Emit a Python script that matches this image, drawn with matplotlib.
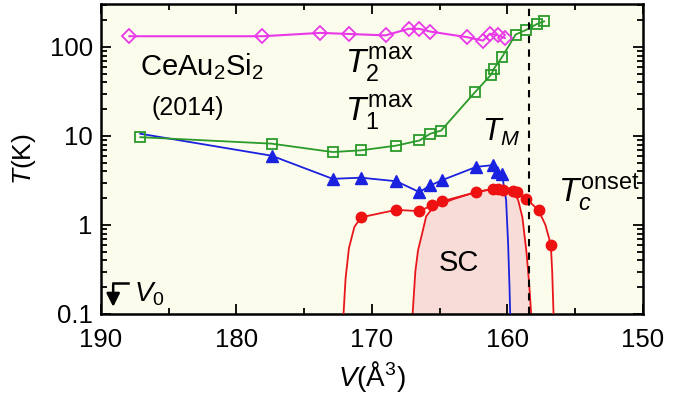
import matplotlib
matplotlib.use("Agg")
import matplotlib.pyplot as plt
from matplotlib.ticker import FixedLocator, FixedFormatter, LogLocator, NullFormatter, MultipleLocator

plt.rcParams['font.family'] = ['Liberation Sans', 'DejaVu Sans']
plt.rcParams['mathtext.fontset'] = 'custom'
plt.rcParams['mathtext.rm'] = 'Liberation Sans'
plt.rcParams['mathtext.it'] = 'Liberation Sans:italic'

# T2max (magenta diamonds)
t2_v = [187.9, 178.1, 173.8, 171.7, 169.0, 167.3, 166.5, 165.7, 163.0, 161.8, 161.3, 160.7, 160.2]
t2_t = [132, 132, 144, 140, 135, 160, 160, 149, 129, 118, 141, 135, 126]

# T1max (green squares)
t1_v = [187.1, 177.4, 172.9, 170.8, 168.2, 166.5, 165.7, 164.9, 162.4, 161.2, 161.0, 160.4, 159.4, 158.6, 157.8, 157.3]
t1_t = [9.7, 8.2, 6.6, 6.9, 7.8, 8.9, 10.6, 11.5, 31, 49, 57, 77, 138, 156, 182, 194]

# TM (blue triangles) and its drop to zero
tm_v = [177.4, 172.9, 170.8, 168.2, 166.5, 165.7, 164.8, 162.3, 161.1, 160.8, 160.4]
tm_t = [6.0, 3.3, 3.4, 3.1, 2.34, 2.78, 3.2, 4.5, 4.7, 3.9, 3.7]
tm_line_v = [187.1, 177.4, 172.9, 170.8, 168.2, 166.5, 165.7, 164.8, 162.3, 161.1, 160.8, 160.4, 160.1, 159.95, 159.85, 159.8]
tm_line_t = [10.6, 6.0, 3.3, 3.4, 3.1, 2.34, 2.78, 3.2, 4.5, 4.7, 3.9, 3.7, 1.9, 0.6, 0.2, 0.1]

# Tc onset (red circles) and its boundary line
tc_v = [170.8, 168.2, 166.5, 165.6, 164.8, 162.3, 161.1, 160.7, 160.3, 159.6, 159.3, 158.6, 157.7, 156.8]
tc_t = [1.22, 1.48, 1.43, 1.66, 1.85, 2.34, 2.55, 2.55, 2.5, 2.4, 2.34, 1.97, 1.46, 0.60]
tc_line_v = [172.1, 171.95, 171.7, 171.3, 170.8, 168.2, 166.5, 165.6, 164.8, 162.3, 161.1, 160.7, 160.3,
             159.6, 159.3, 158.6, 157.7, 157.2, 156.8, 156.7, 156.6]
tc_line_t = [0.1, 0.25, 0.55, 0.95, 1.22, 1.48, 1.43, 1.66, 1.85, 2.34, 2.55, 2.55, 2.5,
             2.4, 2.34, 1.97, 1.46, 1.0, 0.60, 0.3, 0.1]

# superconducting dome boundary
sc_v = [167.0, 166.8, 166.6, 166.3, 166.0, 165.6, 165.0, 164.0, 162.5, 161.0, 160.0, 159.5, 159.2, 158.9, 158.6, 158.4, 158.25]
sc_t = [0.1, 0.3, 0.52, 0.8, 1.25, 1.5, 1.7, 1.95, 2.3, 2.55, 2.6, 2.35, 1.88, 1.22, 0.5, 0.22, 0.1]

v_dash = 158.4

x_major = [190, 180, 170, 160, 150]
y_major = [0.1, 1, 10, 100]
y_labels = ['0.1', '1', '10', '100']

fig = plt.figure(figsize=(6.96, 4.09), dpi=100)
ax = fig.add_axes([0.1451, 0.2323, 0.7787, 0.7579])
ax.set_facecolor('#fcfcec')

ax.fill_between(sc_v, 0.1, sc_t, color='#f8dcd8', lw=0, zorder=1)
ax.plot(sc_v, sc_t, color='#e8161b', lw=1.3, zorder=2)
ax.plot(tc_line_v, tc_line_t, color='#e8161b', lw=1.3, zorder=3)
ax.plot(tc_v, tc_t, 'o', color='#ee1111', ms=7.5, zorder=4)

ax.plot(tm_line_v, tm_line_t, color='#1a22e0', lw=1.3, zorder=3)
ax.plot(tm_v, tm_t, '^', color='#1a22e0', ms=8, zorder=4)

ax.plot(t1_v, t1_t, 's-', color='#2a9a2a', mfc='none', mew=1.3, ms=6.5, lw=1.3, zorder=4)
ax.plot(t2_v, t2_t, 'D-', color='#e838e8', mfc='none', mew=1.3, ms=7, lw=1.5, zorder=4)

ax.axvline(v_dash, color='black', ls=(0, (3.5, 3)), lw=1.5, zorder=5)

ax.set_yscale('log')
ax.set_xlim(190, 150)
ax.set_ylim(0.1, 304)

ax.xaxis.set_major_locator(FixedLocator(x_major))
ax.xaxis.set_minor_locator(MultipleLocator(5))
ax.yaxis.set_major_locator(FixedLocator(y_major))
ax.yaxis.set_major_formatter(FixedFormatter(y_labels))
ax.yaxis.set_minor_locator(LogLocator(base=10, subs=[2, 3, 4, 5, 6, 7, 8, 9]))
ax.yaxis.set_minor_formatter(NullFormatter())

ax.tick_params(which='both', direction='in', top=True, right=True, labelsize=18.5, width=1.3)
ax.tick_params(axis='x', which='major', pad=10)
ax.tick_params(axis='y', which='major', pad=6)
ax.tick_params(which='major', length=7)
ax.tick_params(which='minor', length=4)
for s in ax.spines.values():
    s.set_linewidth(1.8)

ax.set_xlabel(r'$V$(Å$^{3}$)', fontsize=20, labelpad=5)
ax.set_ylabel(r'$T$(K)', fontsize=19, labelpad=8)

ax.text(187.1, 47.9, r'CeAu$_2$Si$_2$', fontsize=21, ha='left', va='baseline')
ax.text(186.3, 17.0, '(2014)', fontsize=18, ha='left', va='baseline')
ax.text(172.0, 51.7, r'$T_2^{\rm max}$', fontsize=24, ha='left', va='baseline')
ax.text(172.0, 14.9, r'$T_1^{\rm max}$', fontsize=24, ha='left', va='baseline')
ax.text(161.9, 8.9, r'$T_M$', fontsize=22, ha='left', va='baseline')
ax.text(156.3, 1.8, r'$T_c^{\rm onset}$', fontsize=24, ha='left', va='baseline')
ax.text(163.6, 0.37, 'SC', fontsize=21, ha='center', va='center')

# V0 marker
ax.plot([188.0, 189.1], [0.225, 0.225], color='black', lw=1.8)
ax.annotate('', xy=(189.1, 0.112), xytext=(189.1, 0.23),
            arrowprops=dict(arrowstyle='-|>', color='black', lw=1.8, mutation_scale=20))
ax.text(187.6, 0.165, r'$V_0$', fontsize=20, ha='left', va='center')

fig.savefig('out.png', dpi=100)
